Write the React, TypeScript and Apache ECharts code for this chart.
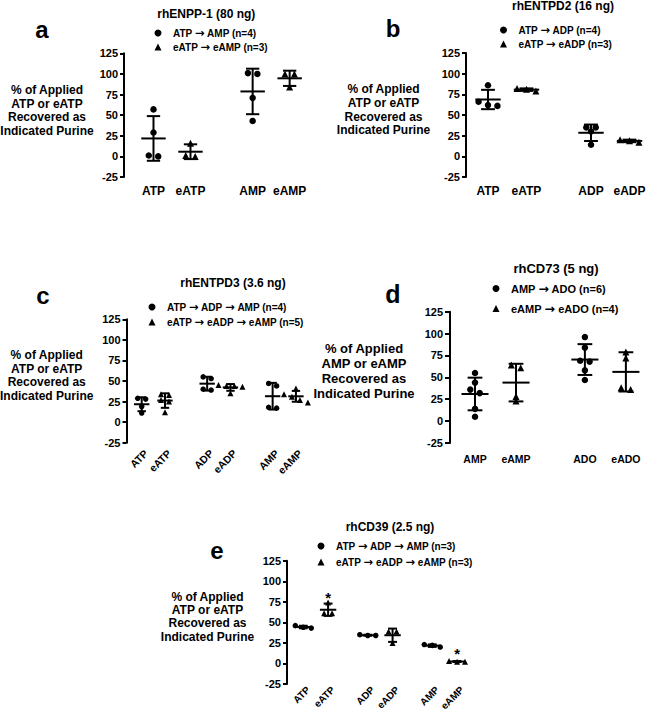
import React, { useEffect, useRef } from 'react';
import * as echarts from 'echarts';

const FONT = '"Liberation Sans", Arial, Helvetica, sans-serif';

// ---------- shared y ticks ----------
const yTicks = [-25, 0, 25, 50, 75, 100, 125];

// ---------- Panel a : rhENPP-1 ----------
const aTitle = 'rhENPP-1 (80 ng)';
const aCategories = ['ATP', 'eATP', 'AMP', 'eAMP'];
const aLegend = ['ATP → AMP (n=4)', 'eATP → eAMP (n=3)'];
const aYLabel = ['% of Applied', 'ATP or eATP', 'Recovered as', 'Indicated Purine'];
const aATP = [57, 29, 0, 1];
const aEATP = [16, 1, 0];
const aAMP = [101, 100, 71, 43];
const aEAMP = [100, 100, 84];

// ---------- Panel b : rhENTPD2 ----------
const bTitle = 'rhENTPD2 (16 ng)';
const bCategories = ['ATP', 'eATP', 'ADP', 'eADP'];
const bLegend = ['ATP → ADP (n=4)', 'eATP → eADP (n=3)'];
const bYLabel = ['% of Applied', 'ATP or eATP', 'Recovered as', 'Indicated Purine'];
const bATP = [86, 66, 62, 61];
const bEATP = [82, 81, 79];
const bADP = [35, 35, 30, 14];
const bEADP = [20, 19, 17];

// ---------- Panel c : rhENTPD3 ----------
const cTitle = 'rhENTPD3 (3.6 ng)';
const cCategories = ['ATP', 'eATP', 'ADP', 'eADP', 'AMP', 'eAMP'];
const cLegend = ['ATP → ADP → AMP (n=4)', 'eATP → eADP → eAMP (n=5)'];
const cYLabel = ['% of Applied', 'ATP or eATP', 'Recovered as', 'Indicated Purine'];
const cATP = [29, 28, 19, 11];
const cEATP = [34, 33, 27, 25, 12];
const cADP = [55, 53, 40, 39];
const cEADP = [45, 44, 44, 43, 35];
const cAMP = [47, 44, 18, 17];
const cEAMP = [41, 34, 31, 27, 24];

// ---------- Panel d : rhCD73 ----------
const dTitle = 'rhCD73 (5 ng)';
const dCategories = ['AMP', 'eAMP', 'ADO', 'eADO'];
const dLegend = ['AMP → ADO (n=6)', 'eAMP → eADO (n=4)'];
const dYLabel = ['% of Applied', 'AMP or eAMP', 'Recovered as', 'Indicated Purine'];
const dAMP = [55, 44, 36, 32, 14, 5];
const dEAMP = [64, 61, 28, 23];
const dADO = [96, 84, 69, 68, 58, 47];
const dEADO = [79, 72, 38, 36];

// ---------- Panel e : rhCD39 ----------
const eTitle = 'rhCD39 (2.5 ng)';
const eCategories = ['ATP', 'eATP', 'ADP', 'eADP', 'AMP', 'eAMP'];
const eLegend = ['ATP → ADP → AMP (n=3)', 'eATP → eADP → eAMP (n=3)'];
const eYLabel = ['% of Applied', 'ATP or eATP', 'Recovered as', 'Indicated Purine'];
const eATP = [46, 44, 43];
const eEATP = [74, 61, 61];
const eADP = [35, 34, 34];
const eEADP = [39, 39, 25];
const eAMP = [20, 22, 23];
const eEAMP = [3, 2, 2];
const eStarCategories = ['eATP', 'eAMP'];
const eStarValues = [80.5, 12];

// ---------- layout (positions / sizes only) ----------
type Layout = {
  axisX: number; top: number; height: number; unit: number; first: number; gap: number; xMax: number;
  sym: number; rotate: number; xFont: number; xMargin: number; shift: number;
  titleX: number; titleY: number; titleFont: number;
  letterX: number; letterY: number; letterFont: number;
  legCx: number; legCy: number; legRow: number; legFont: number;
  yNameX: number; yNameY: number; yNameLH: number; yNameFont: number;
  tickFont: number; tickLen: number; tickMargin: number;
};

const panels: {
  letter: string; title: string; categories: string[]; legend: string[]; yLabel: string[];
  columns: number[][]; stars?: { cats: string[]; values: number[] }; L: Layout;
}[] = [
  {
    letter: 'a', title: aTitle, categories: aCategories, legend: aLegend, yLabel: aYLabel,
    columns: [aATP, aEATP, aAMP, aEAMP],
    L: { axisX: 124, top: 53.3, height: 123.7, unit: 37, first: 0.797, gap: 0.68, xMax: 5.3,
      sym: 6.5, rotate: 0, xFont: 12, xMargin: 8, shift: 0,
      titleX: 206.3, titleY: 14.1, titleFont: 12, letterX: 42, letterY: 29.4, letterFont: 24,
      legCx: 158, legCy: 33, legRow: 14, legFont: 10,
      yNameX: 47, yNameY: 110.5, yNameLH: 13.7, yNameFont: 12, tickFont: 11, tickLen: 4, tickMargin: 6 },
  },
  {
    letter: 'b', title: bTitle, categories: bCategories, legend: bLegend, yLabel: bYLabel,
    columns: [bATP, bEATP, bADP, bEADP],
    L: { axisX: 466, top: 53, height: 124, unit: 38.5, first: 0.571, gap: 0.676, xMax: 4.7,
      sym: 6.5, rotate: 0, xFont: 12, xMargin: 8, shift: 0,
      titleX: 563, titleY: 5.8, titleFont: 12, letterX: 393, letterY: 28.4, letterFont: 24,
      legCx: 503.5, legCy: 30, legRow: 14, legFont: 10,
      yNameX: 383.5, yNameY: 109.7, yNameLH: 13.7, yNameFont: 12, tickFont: 11, tickLen: 4, tickMargin: 6 },
  },
  {
    letter: 'c', title: cTitle, categories: cCategories, legend: cLegend, yLabel: cYLabel,
    columns: [cATP, cEATP, cADP, cEADP, cAMP, cEAMP],
    L: { axisX: 126.5, top: 319.3, height: 123.4, unit: 23.3, first: 0.652, gap: 0.81, xMax: 8,
      sym: 5.5, rotate: 45, xFont: 10.5, xMargin: 9, shift: 4.5,
      titleX: 233, titleY: 282.5, titleFont: 12, letterX: 43, letterY: 295, letterFont: 24,
      legCx: 152, legCy: 307, legRow: 15, legFont: 10,
      yNameX: 46.7, yNameY: 375.3, yNameLH: 13.6, yNameFont: 12, tickFont: 11, tickLen: 4, tickMargin: 6 },
  },
  {
    letter: 'd', title: dTitle, categories: dCategories, legend: dLegend, yLabel: dYLabel,
    columns: [dAMP, dEAMP, dADO, dEADO],
    L: { axisX: 450, top: 311.7, height: 131.3, unit: 41, first: 0.61, gap: 0.68, xMax: 4.8,
      sym: 6.5, rotate: 0, xFont: 10.5, xMargin: 10, shift: 0,
      titleX: 556, titleY: 268.5, titleFont: 13, letterX: 393, letterY: 294.4, letterFont: 25,
      legCx: 496, legCy: 288, legRow: 19, legFont: 11,
      yNameX: 364, yNameY: 370.8, yNameLH: 15, yNameFont: 13, tickFont: 11, tickLen: 5, tickMargin: 7 },
  },
  {
    letter: 'e', title: eTitle, categories: eCategories, legend: eLegend, yLabel: eYLabel,
    columns: [eATP, eEATP, eADP, eEADP, eAMP, eEAMP],
    stars: { cats: eStarCategories, values: eStarValues },
    L: { axisX: 287, top: 560.7, height: 123.3, unit: 24.8, first: 0.657, gap: 0.6, xMax: 7.5,
      sym: 5.5, rotate: 45, xFont: 10, xMargin: 4, shift: 5,
      titleX: 390, titleY: 526.5, titleFont: 12, letterX: 217, letterY: 550, letterFont: 24,
      legCx: 321, legCy: 546, legRow: 16, legFont: 10,
      yNameX: 207.5, yNameY: 616.7, yNameLH: 13.3, yNameFont: 12, tickFont: 11, tickLen: 4, tickMargin: 6 },
  },
];

const TRI_ICON = 'path://M5,0L10,10L0,10Z';

function mean(v: number[]) { return v.reduce((s, x) => s + x, 0) / v.length; }
function sd(v: number[]) {
  const m = mean(v);
  return Math.sqrt(v.reduce((s, x) => s + (x - m) * (x - m), 0) / (v.length - 1));
}

// horizontal spreading of near-equal values (like a column scatter plot)
function spread(values: number[], step: number, threshold = 4.5) {
  const order = values.map((_, i) => i).sort((i, j) => values[j] - values[i]);
  const offs = new Array(values.length).fill(0);
  let cluster: number[] = [];
  const flush = () => {
    const k = cluster.length;
    cluster.forEach((ii, j) => { offs[ii] = (j - (k - 1) / 2) * step; });
    cluster = [];
  };
  order.forEach((i) => {
    if (cluster.length && values[cluster[cluster.length - 1]] - values[i] > threshold) flush();
    cluster.push(i);
  });
  flush();
  return offs;
}

function txt(x: number, y: number, text: string, size: number, lineHeight?: number) {
  return {
    type: 'text', x, y, silent: true,
    style: {
      text, fill: '#000', font: `bold ${size}px ${FONT}`,
      textAlign: 'center', textVerticalAlign: 'middle', align: 'center', verticalAlign: 'middle',
      lineHeight: lineHeight || size * 1.2,
    },
  };
}

function buildOption() {
  const grid: any[] = [], xAxis: any[] = [], yAxis: any[] = [], series: any[] = [], legend: any[] = [];
  const elements: any[] = [];

  panels.forEach((p, k) => {
    const L = p.L;
    const pos = p.categories.map((_, i) => L.first + i + Math.floor(i / 2) * L.gap);

    grid.push({ left: L.axisX, top: L.top, width: L.unit * L.xMax, height: L.height,
      containLabel: false, outerBoundsMode: 'none' });

    xAxis.push({
      type: 'value', gridIndex: k, min: 0, max: L.xMax,
      axisLine: { show: false }, axisTick: { show: false }, splitLine: { show: false },
      axisLabel: {
        customValues: pos.map((v) => v + L.shift / L.unit),
        formatter: (v: number) => {
          let best = 0;
          pos.forEach((q, i) => { if (Math.abs(q - v) < Math.abs(pos[best] - v)) best = i; });
          return p.categories[best];
        },
        rotate: L.rotate, margin: L.xMargin, color: '#000', fontWeight: 'bold',
        fontSize: L.xFont, fontFamily: FONT,
      },
    });

    yAxis.push({
      type: 'value', gridIndex: k, min: yTicks[0], max: yTicks[yTicks.length - 1],
      interval: yTicks[1] - yTicks[0],
      axisLine: { show: true, lineStyle: { color: '#000', width: 2 } },
      axisTick: { show: true, length: L.tickLen, lineStyle: { color: '#000', width: 2 } },
      splitLine: { show: false },
      axisLabel: { color: '#000', fontWeight: 'bold', fontSize: L.tickFont, fontFamily: FONT, margin: L.tickMargin },
    });

    const circ: number[][] = [];
    const tri: number[][] = [];
    const stats: number[][] = [];
    p.columns.forEach((vals, i) => {
      const offs = spread(vals, (L.sym * 1.45) / L.unit);
      vals.forEach((v, j) => (i % 2 === 0 ? circ : tri).push([pos[i] + offs[j], v]));
      stats.push([pos[i], mean(vals), sd(vals)]);
    });

    series.push({
      type: 'scatter', name: p.legend[0], xAxisIndex: k, yAxisIndex: k,
      symbol: 'circle', symbolSize: L.sym, itemStyle: { color: '#000', opacity: 1 }, data: circ, z: 3,
    });
    series.push({
      type: 'scatter', name: p.legend[1], xAxisIndex: k, yAxisIndex: k,
      symbol: 'triangle', symbolSize: L.sym + 0.5, itemStyle: { color: '#000', opacity: 1 }, data: tri, z: 3,
    });
    series.push({
      type: 'custom', xAxisIndex: k, yAxisIndex: k, z: 4, clip: false,
      encode: { x: 0, y: 1 },
      data: stats,
      renderItem: (_params: any, api: any) => {
        const x = api.value(0), m = api.value(1), s = api.value(2);
        const c = api.coord([x, m]);
        const t = api.coord([x, m + s]);
        const b = api.coord([x, m - s]);
        const u = api.size([1, 0])[0];
        const hw = u * 0.33, cw = u * 0.18;
        const st = () => ({ stroke: '#000', lineWidth: 2 });
        return {
          type: 'group',
          children: [
            { type: 'line', shape: { x1: c[0] - hw, y1: c[1], x2: c[0] + hw, y2: c[1] }, style: st() },
            { type: 'line', shape: { x1: c[0], y1: t[1], x2: c[0], y2: b[1] }, style: st() },
            { type: 'line', shape: { x1: c[0] - cw, y1: t[1], x2: c[0] + cw, y2: t[1] }, style: st() },
            { type: 'line', shape: { x1: c[0] - cw, y1: b[1], x2: c[0] + cw, y2: b[1] }, style: st() },
          ],
        };
      },
    });

    if (p.stars) {
      const starData = p.stars.cats.map((c, i) => [pos[p.categories.indexOf(c)], p.stars!.values[i]]);
      series.push({
        type: 'custom', xAxisIndex: k, yAxisIndex: k, z: 5, clip: false,
        encode: { x: 0, y: 1 },
        data: starData,
        renderItem: (_params: any, api: any) => {
          const pt = api.coord([api.value(0), api.value(1)]);
          return {
            type: 'text', x: pt[0], y: pt[1],
            style: {
              text: '*', fill: '#000', font: `bold 15px ${FONT}`,
              textAlign: 'center', textVerticalAlign: 'middle', align: 'center', verticalAlign: 'middle',
            },
          };
        },
      });
    }

    // the legend box starts at the icon's own left edge (circle of diameter itemHeight)
    legend.push({
      data: [{ name: p.legend[0], icon: 'circle' }, { name: p.legend[1], icon: TRI_ICON }],
      orient: 'vertical', left: L.legCx - 3.5, top: L.legCy - 6,
      itemWidth: 20, itemHeight: 7, itemGap: L.legRow - 12, padding: 0, selectedMode: false,
      formatter: (name: string) => name.split('→').join('{arr|→}'),
      textStyle: {
        color: '#000', fontWeight: 'bold', fontSize: L.legFont, fontFamily: FONT, lineHeight: 12,
        rich: {
          arr: { fontFamily: '"DejaVu Sans", sans-serif', fontWeight: 'bold', fontSize: L.legFont + 1.5,
            color: '#000', lineHeight: 12 },
        },
      },
    });

    elements.push(txt(L.titleX, L.titleY, p.title, L.titleFont));
    elements.push(txt(L.letterX, L.letterY, p.letter, L.letterFont));
    elements.push(txt(L.yNameX, L.yNameY, p.yLabel.join('\n'), L.yNameFont, L.yNameLH));
  });

  return {
    animation: false,
    backgroundColor: '#fff',
    textStyle: { fontFamily: FONT },
    grid, xAxis, yAxis, series, legend,
    graphic: { elements },
  };
}

export default function App() {
  const ref = useRef<HTMLDivElement>(null);
  useEffect(() => {
    document.body.style.margin = '0';
    if (!ref.current) return;
    const chart = echarts.init(ref.current, undefined, { renderer: 'svg' });
    chart.setOption(buildOption() as any);
    return () => chart.dispose();
  }, []);
  return <div ref={ref} style={{ width: 648, height: 712 }} />;
}
